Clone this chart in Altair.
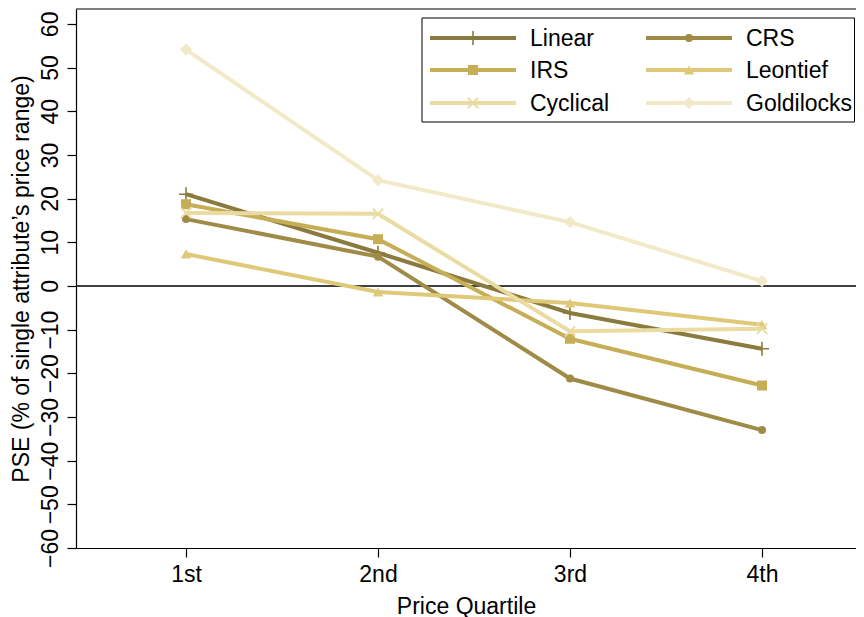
import altair as alt
import pandas as pd

quartiles = ["1st", "2nd", "3rd", "4th"]
series = ["Linear", "CRS", "IRS", "Leontief", "Cyclical", "Goldilocks"]
linear = [21.0, 7.6, -6.2, -14.4]
crs = [15.3, 6.7, -21.2, -33.0]
irs = [18.7, 10.7, -12.1, -22.8]
leontief = [7.3, -1.4, -3.9, -8.9]
cyclical = [16.7, 16.5, -10.4, -9.8]
goldilocks = [54.1, 24.2, 14.6, 1.1]
colors = ["#8b7a3d", "#a08b46", "#c5ae56", "#dfc978", "#eadba2", "#f2e9c9"]

values = [linear, crs, irs, leontief, cyclical, goldilocks]
rows = []
for s, vals in zip(series, values):
    for i, (q, v) in enumerate(zip(quartiles, vals)):
        rows.append({"series": s, "q": i + 1, "quartile": q, "value": v})
df = pd.DataFrame(rows)

# marker styles per series
markers = {
    "Linear": dict(shape="M-1,0H1M0,-1V1", size=196, filled=False, strokeWidth=1.6),
    "CRS": dict(shape="circle", size=64, filled=True),
    "IRS": dict(shape="square", size=100, filled=True),
    "Leontief": dict(shape="triangle-up", size=110, filled=True),
    "Cyclical": dict(shape="M-1,-1L1,1M-1,1L1,-1", size=110, filled=False, strokeWidth=1.8),
    "Goldilocks": dict(shape="diamond", size=150, filled=True),
}

W, H = 780, 539
FONT = "Liberation Sans"
FS = 23

label_expr = "[" + ",".join("'%s'" % q for q in quartiles) + "][datum.value - 1]"

x_enc = alt.X(
    "q:Q",
    scale=alt.Scale(domain=[0.4271, 4.4896], nice=False, zero=False),
    axis=alt.Axis(
        values=[1, 2, 3, 4], labelExpr=label_expr, title="Price Quartile",
        grid=False, tickSize=9, labelPadding=6, titlePadding=9,
    ),
)
y_enc = alt.Y(
    "value:Q",
    scale=alt.Scale(domain=[-60, 63.4], nice=False, zero=False),
    axis=alt.Axis(
        values=list(range(-60, 61, 10)), title="PSE (% of single attribute\u2019s price range)",
        grid=False, tickSize=9, labelAngle=270, labelAlign="center",
        labelBaseline="alphabetic", labelPadding=10, titlePadding=6,
    ),
)

one = pd.DataFrame({"a": [0]})
layers = []

# top border
layers.append(alt.Chart(one).mark_rule(color="black", strokeWidth=1.2).encode(
    x=alt.value(0), x2=alt.value(W), y=alt.value(0)))
# zero line
layers.append(alt.Chart(one).mark_rule(color="black", strokeWidth=1.4).encode(y=alt.datum(0)))

for s, c in zip(series, colors):
    sub = alt.Chart(df).transform_filter(alt.datum.series == s)
    layers.append(sub.mark_line(color=c, strokeWidth=4).encode(x=x_enc, y=y_enc))
    m = markers[s]
    if m["filled"]:
        pm = sub.mark_point(shape=m["shape"], size=m["size"], filled=True, fill=c, opacity=1)
    else:
        pm = sub.mark_point(shape=m["shape"], size=m["size"], filled=False, stroke=c,
                            strokeWidth=m["strokeWidth"], opacity=1)
    layers.append(pm.encode(x=x_enc, y=y_enc))

# legend (layout constants, pixels in plot area)
LX, LY, LX2, LY2 = 346, 9, 778.5, 113
layers.append(alt.Chart(one).mark_rect(fill="white", stroke="black", strokeWidth=1).encode(
    x=alt.value(LX), x2=alt.value(LX2), y=alt.value(LY), y2=alt.value(LY2)))
col_x = [354, 570]
row_y = [29, 61, 94]
for k, (s, c) in enumerate(zip(series, colors)):
    cx = col_x[k % 2]
    ry = row_y[k // 2]
    layers.append(alt.Chart(one).mark_rule(color=c, strokeWidth=4).encode(
        x=alt.value(cx), x2=alt.value(cx + 86), y=alt.value(ry)))
    m = markers[s]
    if m["filled"]:
        pm = alt.Chart(one).mark_point(shape=m["shape"], size=m["size"], filled=True, fill=c, opacity=1)
    else:
        pm = alt.Chart(one).mark_point(shape=m["shape"], size=m["size"], filled=False, stroke=c,
                                       strokeWidth=m["strokeWidth"], opacity=1)
    layers.append(pm.encode(x=alt.value(cx + 43), y=alt.value(ry)))
    layers.append(alt.Chart(one).mark_text(text=s, align="left", baseline="middle",
                                           font=FONT, fontSize=FS, color="black").encode(
        x=alt.value(cx + 100), y=alt.value(ry + 1)))

chart = alt.layer(*layers).properties(
    width=W, height=H,
    autosize=alt.AutoSizeParams(type="none"),
    padding={"left": 68, "top": 1, "right": 0, "bottom": 69},
).configure_view(stroke=None).configure_axis(
    labelFont=FONT, titleFont=FONT, labelFontSize=FS, titleFontSize=FS,
    labelColor="black", titleColor="black", domainColor="black", tickColor="black",
    domainWidth=1.2, tickWidth=1.2, titleFontWeight="normal",
)

chart.save("out.html", embed_options={"renderer": "svg", "actions": False})
